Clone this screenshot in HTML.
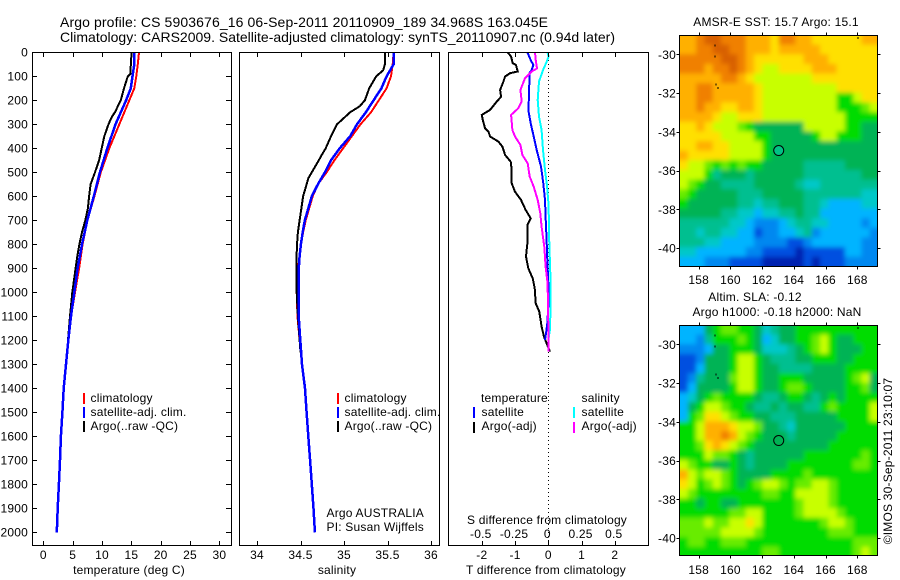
<!DOCTYPE html>
<html>
<head>
<meta charset="utf-8">
<title>Argo profile</title>
<style>
html,body{margin:0;padding:0;background:#fff;}
svg{display:block;}
text{font-family:"Liberation Sans",sans-serif;font-size:12px;fill:#000;letter-spacing:0.2px;}
.big{font-size:14px;letter-spacing:0;}
</style>
</head>
<body>
<svg id="chart" xmlns="http://www.w3.org/2000/svg" width="900" height="580" viewBox="0 0 900 580">
  <defs>
    <filter id="soften" filterUnits="userSpaceOnUse" x="650" y="10" width="250" height="570">
      <feGaussianBlur stdDeviation="2.4"/>
    </filter>
    <clipPath id="clip-sst"><rect x="680" y="36" width="197" height="230"/></clipPath>
    <clipPath id="clip-sla"><rect x="680" y="326" width="197" height="229"/></clipPath>
  </defs>
  <rect width="900" height="580" fill="#fff"/>
  <text class="big" x="60" y="27" textLength="488" lengthAdjust="spacing">Argo profile: CS 5903676_16 06-Sep-2011 20110909_189 34.968S 163.045E</text>
  <text class="big" x="60" y="42" textLength="555" lengthAdjust="spacing">Climatology: CARS2009. Satellite-adjusted climatology: synTS_20110907.nc (0.94d later)</text>

  <g clip-path="url(#clip-sst)"><g id="heat-sst" filter="url(#soften)"></g></g>
  <g clip-path="url(#clip-sla)"><g id="heat-sla" filter="url(#soften)"></g></g>
  <g id="profiles"></g>
  <g id="axes"></g>

  <g>
    <rect x="83" y="393" width="2" height="11" fill="#f00"/>
    <rect x="83" y="407" width="2" height="11" fill="#00f"/>
    <rect x="83" y="421" width="2" height="11" fill="#000"/>
    <text x="90.500" y="402">climatology</text>
    <text x="90.500" y="416">satellite-adj. clim.</text>
    <text x="90.500" y="430">Argo(..raw -QC)</text>
  </g>
  <g>
    <rect x="337" y="393" width="2" height="11" fill="#f00"/>
    <rect x="337" y="407" width="2" height="11" fill="#00f"/>
    <rect x="337" y="421" width="2" height="11" fill="#000"/>
    <text x="344.500" y="402">climatology</text>
    <text x="344.500" y="416">satellite-adj. clim.</text>
    <text x="344.500" y="430">Argo(..raw -QC)</text>
    <text x="326.500" y="517">Argo AUSTRALIA</text>
    <text x="326.500" y="531">PI: Susan Wijffels</text>
  </g>
  <g>
    <text x="481" y="402">temperature</text>
    <text x="581.500" y="402">salinity</text>
    <rect x="473" y="407" width="2" height="11" fill="#00f"/>
    <rect x="473" y="422" width="2" height="11" fill="#000"/>
    <rect x="573" y="407" width="2" height="11" fill="#0ff"/>
    <rect x="573" y="422" width="2" height="11" fill="#f0f"/>
    <text x="481.500" y="416">satellite</text>
    <text x="481.500" y="430">Argo(-adj)</text>
    <text x="581.500" y="416">satellite</text>
    <text x="581.500" y="430">Argo(-adj)</text>
  </g>

  <text x="129" y="574" text-anchor="middle">temperature (deg C)</text>
  <text x="337" y="574" text-anchor="middle">salinity</text>
  <text x="546" y="574" text-anchor="middle" textLength="160" lengthAdjust="spacing">T difference from climatology</text>
  <text x="547" y="524" text-anchor="middle" textLength="160" lengthAdjust="spacing">S difference from climatology</text>

  <text x="776" y="26" text-anchor="middle">AMSR-E SST: 15.7 Argo: 15.1</text>
  <text x="755" y="301" text-anchor="middle">Altim. SLA: -0.12</text>
  <text x="777" y="316" text-anchor="middle">Argo h1000: -0.18 h2000: NaN</text>
  <text transform="translate(892,461) rotate(-90)" text-anchor="middle">©IMOS 30-Sep-2011 23:10:07</text>
</svg>
<script>
// ---- profile data ----
const tempDepth = [0,50,100,150,200,300,400,500,600,700,800,900,1000,1100,1200,1300,1400,1500,1600,1700,1800,1900,2000];
const tempClim = [16.3,16.1,15.85,15.5,14.65,12.95,11.25,9.8,8.7,7.5,6.7,6.1,5.4,4.72,4.26,3.87,3.47,3.25,3.0,2.85,2.65,2.45,2.3];
const tempSat = [15.5,15.5,15.2,14.9,14.1,12.3,10.9,9.65,8.6,7.5,6.6,5.85,5.28,4.72,4.26,3.87,3.47,3.25,3.0,2.85,2.65,2.45,2.3];
const argoTempDepth = [0,50,90,100,150,200,250,270,300,350,400,450,500,550,600,650,700,750,800,850,900,1000,1100,1200,1250];
const argoTemp = [15.05,14.9,14.85,14.4,13.75,13.2,12.2,11.65,11.1,10.4,9.95,9.5,8.8,8.05,7.8,7.6,7.15,6.6,6.15,5.8,5.5,4.94,4.55,4.2,4.05];

const salDepth = [0,50,100,150,200,250,300,350,400,450,500,550,600,650,700,750,800,850,900,1000,1100,1200,1300,1400,1500,1600,1700,1800,1900,2000];
const salClim = [35.57,35.56,35.54,35.49,35.40,35.31,35.19,35.09,34.99,34.89,34.80,34.70,34.64,34.60,34.56,34.53,34.506,34.487,34.475,34.456,34.465,34.49,34.517,34.552,34.57,34.59,34.61,34.63,34.65,34.665];
const salSat = [35.57,35.57,35.49,35.43,35.34,35.25,35.15,35.07,34.95,34.85,34.78,34.70,34.63,34.59,34.55,34.525,34.505,34.49,34.48,34.479,34.479,34.498,34.517,34.552,34.57,34.59,34.61,34.63,34.65,34.665];
const argoSalDepth = [0,50,75,100,150,200,225,250,270,300,350,400,430,450,500,525,550,600,650,700,750,800,850,1000,1100,1250];
const argoSal = [35.47,35.47,35.45,35.37,35.29,35.24,35.18,35.07,35.01,34.92,34.85,34.79,34.74,34.71,34.63,34.59,34.57,34.53,34.51,34.49,34.47,34.46,34.455,34.456,34.47,34.5];

const diffArgoTDepth = [0,18,46,53,80,87,101,122,157,185,205,240,261,282,317,330,351,372,393,428,456,490,546,581,615,657,692,720,782,851,900,942,983,1046,1081,1143,1185,1212,1247];
const diffArgoT = [-1.22,-1.12,-1.07,-0.97,-0.92,-1.15,-1.30,-1.35,-1.45,-1.42,-1.55,-1.75,-2.0,-1.97,-1.90,-1.80,-1.75,-1.50,-1.38,-1.30,-1.13,-1.10,-1.10,-1.0,-0.82,-0.68,-0.53,-0.63,-0.62,-0.67,-0.60,-0.47,-0.41,-0.38,-0.27,-0.20,-0.13,-0.05,0.05];
const diffSatTDepth = [0,32,53,74,87,129,185,240,296,351,407,476,546,615,685,782,865,962,1060,1129,1171,1199];
const diffSatT = [-0.63,-0.53,-0.45,-0.5,-0.57,-0.57,-0.58,-0.60,-0.53,-0.44,-0.35,-0.22,-0.15,-0.10,-0.08,-0.05,-0.03,0,0,-0.03,-0.07,-0.10];
const diffSatSDepth = [0,18,39,74,122,199,268,324,407,490,556,638,782,921,1060,1157,1199];
const diffSatS = [-0.007,0.002,-0.012,-0.04,-0.07,-0.08,-0.07,-0.05,-0.04,-0.025,-0.01,0.002,0.007,0.015,0.017,0.012,0];
const diffArgoSDepth = [0,32,67,80,108,157,205,233,261,324,351,386,428,463,518,560,615,671,727,810,893,962,1060,1199,1247];
const diffArgoS = [-0.10,-0.095,-0.085,-0.125,-0.175,-0.21,-0.20,-0.225,-0.28,-0.27,-0.25,-0.21,-0.195,-0.155,-0.14,-0.11,-0.08,-0.06,-0.05,-0.03,-0.02,-0.005,-0.002,0.002,0.002];

// ---- tick labels ----
const depthTicks = [0,100,200,300,400,500,600,700,800,900,1000,1100,1200,1300,1400,1500,1600,1700,1800,1900,2000];
const tempTicks = [0,5,10,15,20,25,30];
const salTicks = [34,34.5,35,35.5,36];
const diffTTicks = [-2,-1,0,1,2];
const diffSTicks = [-0.5,-0.25,0,0.25,0.5];
const lonTicks = [158,160,162,164,166,168];
const latTicks = [-30,-32,-34,-36,-38,-40];

// ---- map data (colour level per cell, north to south) ----
const sstRows = [
[11,11,12,13,13,12,12,12,11,11,11,10,12,12,11,11,10,10,10,10,10,10,11,11],
[11,11,12,12,13,13,12,12,11,11,11,10,11,11,11,11,11,10,10,10,10,10,10,10],
[12,12,12,12,12,13,13,12,11,10,10,10,10,10,10,11,11,11,10,10,10,10,10,10],
[12,12,12,11,12,12,13,12,11,10,9,9,10,10,10,10,11,11,11,10,10,10,10,10],
[11,11,11,11,11,12,12,11,10,9,9,9,9,9,9,9,10,10,10,10,10,10,10,10],
[11,11,12,12,11,11,11,11,11,10,9,9,9,9,9,9,9,9,9,10,10,10,10,10],
[11,11,12,12,11,11,11,11,11,10,9,9,9,9,9,9,9,9,9,7,7,9,10,10],
[11,11,12,11,11,10,10,11,11,10,9,9,9,9,9,9,9,9,9,7,7,7,8,9],
[11,11,11,11,10,9,9,10,10,10,9,9,9,9,9,9,9,9,9,9,7,7,7,7],
[10,10,11,10,9,9,9,8,7,6,6,6,6,6,6,9,9,9,9,9,7,7,6,6],
[10,10,10,10,10,9,9,9,9,7,7,6,6,6,6,6,7,9,9,7,7,7,6,6],
[10,10,11,11,10,10,9,9,9,9,7,6,6,6,6,6,6,6,6,6,6,6,6,6],
[11,10,10,10,10,10,9,9,9,9,7,6,6,6,6,6,6,6,6,6,6,6,6,6],
[10,9,9,8,7,8,7,8,7,7,6,6,6,6,6,5,5,5,5,5,6,6,6,6],
[9,9,9,7,5,6,6,6,5,6,6,6,6,6,6,5,5,5,5,5,5,5,6,6],
[9,8,7,6,6,5,5,5,5,6,6,6,6,6,5,4,4,5,5,5,5,5,5,5],
[8,7,6,6,6,6,6,5,5,5,6,6,6,6,6,5,5,5,5,5,5,5,4,4],
[7,6,6,6,6,6,6,5,5,4,5,5,6,6,6,5,5,4,3,3,3,3,4,4],
[6,6,6,6,6,5,5,4,4,3,4,4,5,5,6,5,5,3,3,3,3,3,3,3],
[5,5,5,5,5,5,4,4,3,2,2,2,3,4,5,5,4,4,3,3,3,3,2,3],
[5,5,4,5,5,4,4,3,3,1,2,2,3,3,4,5,2,3,3,3,3,3,3,2],
[5,5,5,4,4,3,3,3,3,2,2,2,2,1,1,2,3,3,3,3,3,3,2,2],
[4,4,3,3,3,3,3,3,2,2,1,1,1,1,0,1,1,1,1,1,3,3,2,2],
[3,3,3,2,2,2,1,1,1,1,0,0,0,0,0,1,0,1,1,1,2,2,2,2]
];
const slaRows = [
[3,3,3,6,7,8,8,7,7,6,4,5,6,6,7,7,7,7,7,7,7,7,7,7],
[3,3,2,5,7,7,7,8,7,6,3,4,6,6,7,7,8,9,7,6,6,7,7,7],
[2,2,2,3,6,6,7,7,7,6,4,4,4,5,6,7,8,9,7,6,6,6,7,7],
[1,1,2,6,6,6,7,9,9,7,6,5,5,5,6,6,7,7,7,6,6,7,7,7],
[1,1,3,6,6,6,7,9,9,7,6,6,5,5,5,5,6,6,6,6,7,7,7,7],
[1,2,5,6,6,6,8,9,9,7,6,6,7,7,7,6,6,6,6,6,7,8,9,6],
[1,3,6,6,6,6,7,9,9,7,6,6,7,8,8,7,6,6,6,6,7,7,8,6],
[3,4,6,7,8,7,7,7,7,6,5,5,6,7,7,6,5,6,7,6,7,7,7,7],
[3,6,7,9,9,8,7,7,6,5,5,6,5,6,6,5,5,7,8,7,7,7,7,9],
[3,7,8,10,10,9,8,7,7,6,6,5,5,5,6,6,6,6,6,7,7,7,7,9],
[7,7,9,11,11,11,10,9,9,8,6,6,5,4,6,6,6,6,6,6,7,7,7,7],
[7,7,9,11,11,12,11,9,8,7,6,6,6,5,6,6,6,6,6,7,7,7,7,7],
[7,7,8,10,11,10,9,8,7,6,6,6,6,6,6,6,6,6,7,7,7,7,7,7],
[7,7,7,9,8,8,7,6,5,6,6,6,6,6,6,7,7,7,7,7,7,7,8,7],
[9,8,7,7,6,6,7,6,5,6,6,6,6,7,7,7,7,7,7,7,7,8,8,7],
[11,9,8,9,9,8,7,6,6,6,6,7,7,7,7,8,7,7,7,7,7,7,7,7],
[10,9,7,8,9,8,7,6,7,8,9,9,8,7,8,8,9,9,8,7,7,7,7,7],
[9,8,7,7,7,7,7,7,7,7,8,8,7,7,9,9,9,9,8,7,7,7,7,7],
[7,7,6,7,7,6,6,7,7,7,7,7,7,7,8,9,9,9,8,7,7,7,7,7],
[7,7,7,7,7,7,8,8,9,9,7,7,7,7,8,9,9,9,9,8,7,7,7,7],
[8,8,8,9,8,8,9,9,10,9,7,7,7,7,7,7,7,8,9,9,8,7,7,7],
[8,8,8,8,8,9,9,9,9,8,7,7,7,7,7,7,7,7,8,8,8,7,7,7],
[7,8,8,7,7,8,8,8,7,7,7,7,7,7,7,7,7,7,7,7,7,8,8,8],
[7,7,7,7,7,7,7,7,7,7,8,8,7,7,7,7,7,7,7,7,7,8,9,8]
];
const palette = ["#0020b0","#0050e0","#0088f0","#00b4ff","#00c8c8","#00bf90","#00b354","#00dc00","#68ec00","#c8ff00","#ffe000","#ffb000","#f08000","#d86000"];

const SVGNS = "http://www.w3.org/2000/svg";
const heatSst = document.getElementById("heat-sst");
const heatSla = document.getElementById("heat-sla");
const profG = document.getElementById("profiles");
const axG = document.getElementById("axes");

// ---- axis functions ----
const yDepth = d => 52.3 + d * 0.24;
const xTemp = t => 43.3 + t * 5.87;
const xSal = s => 257 + (s - 34) * 87;
const xDT = t => 548.3 + t * 33.25;
const xDS = s => 548.3 + s * 133;
const xLon = lon => 698.7 + (lon - 158) * 15.86;
const yLatTop = lat => 54.3 + (-30 - lat) * 19.37;
const yLatBot = lat => 344.3 + (-30 - lat) * 19.37;

function make(tag, parent, attrs) {
  const el = document.createElementNS(SVGNS, tag);
  for (const k in attrs) el.setAttribute(k, attrs[k]);
  parent.appendChild(el);
  return el;
}
function drawLine(name, xs, depths, xf, color, w) {
  const pts = xs.map((v, i) => xf(v).toFixed(1) + "," + yDepth(depths[i]).toFixed(1)).join(" ");
  const el = make("polyline", profG, {points: pts, fill: "none", stroke: color, "stroke-width": w, "shape-rendering": "crispEdges"});
  
  
}
function tick(parent, x1, y1, x2, y2) {
  const el = make("line", parent, {x1: x1, y1: y1, x2: x2, y2: y2, stroke: "#000", "stroke-width": 1, "shape-rendering": "crispEdges"});
  
  
}
function label(parent, x, y, str, anchor) {
  const el = make("text", parent, {x: x, y: y, "text-anchor": anchor});
  el.textContent = str;
  
  
}
function frame(name, x1, y1, x2, y2) {
  const el = make("rect", axG, {x: x1, y: y1, width: x2 - x1, height: y2 - y1, fill: "none", stroke: "#000", "stroke-width": 1, "shape-rendering": "crispEdges"});
  
  
}

// ---- maps: one rect per cell; border cells bleed past the clip so the soft filter keeps full colour at the edges ----
function drawMap(name, rows, yLat, group) {
  const lonW = 156.8, lonE = 169.3, latN = -29.0, latS = -40.95;
  const bleed = 10;
  const nr = rows.length, nc = rows[0].length;
  const dLon = (lonE - lonW) / nc, dLat = (latN - latS) / nr;
  rows.forEach((row, j) => {
    row.forEach((lev, i) => {
      let x0 = xLon(lonW + i * dLon), x1 = xLon(lonW + (i + 1) * dLon);
      let y0 = yLat(latN - j * dLat), y1 = yLat(latN - (j + 1) * dLat);
      if (i === 0) x0 -= bleed;
      if (i === nc - 1) x1 += bleed;
      if (j === 0) y0 -= bleed;
      if (j === nr - 1) y1 += bleed;
      const el = make("rect", group, {x: x0.toFixed(2), y: y0.toFixed(2), width: (x1 - x0 + 0.4).toFixed(2), height: (y1 - y0 + 0.4).toFixed(2), fill: palette[lev]});
      
      
    });
  });
}
drawMap("sst-map", sstRows, yLatTop, heatSst);
drawMap("sla-map", slaRows, yLatBot, heatSla);

// ---- profile lines ----
drawLine("temperature-climatology-line", tempClim, tempDepth, xTemp, "#f00", 2);
drawLine("temperature-argo-line", argoTemp, argoTempDepth, xTemp, "#000", 2);
drawLine("temperature-satellite-line", tempSat, tempDepth, xTemp, "#00f", 2.5);
drawLine("salinity-climatology-line", salClim, salDepth, xSal, "#f00", 2);
drawLine("salinity-argo-line", argoSal, argoSalDepth, xSal, "#000", 2);
drawLine("salinity-satellite-line", salSat, salDepth, xSal, "#00f", 2.5);

const zero = make("line", profG, {x1: xDT(0), y1: 52, x2: xDT(0), y2: 545, stroke: "#000", "stroke-width": 1, "stroke-dasharray": "1 3", "shape-rendering": "crispEdges"});



drawLine("diff-t-argo-line", diffArgoT, diffArgoTDepth, xDT, "#000", 2);
drawLine("diff-t-satellite-line", diffSatT, diffSatTDepth, xDT, "#00f", 2);
drawLine("diff-s-satellite-line", diffSatS, diffSatSDepth, xDS, "#0ff", 2);
drawLine("diff-s-argo-line", diffArgoS, diffArgoSDepth, xDS, "#f0f", 2);

// ---- panel frames ----
frame("temperature-panel-frame", 32.5, 52.5, 231.5, 545.5);
frame("salinity-panel-frame", 239.5, 52.5, 439.5, 545.5);
frame("difference-panel-frame", 448.5, 52.5, 648.5, 545.5);
frame("sst-map-frame", 679.5, 35.5, 877.5, 266.5);
frame("sla-map-frame", 679.5, 325.5, 877.5, 555.5);

// ---- profile axes ----
depthTicks.forEach(d => {
  const y = Math.round(yDepth(d)) + 0.5;
  if (d > 0) {
    tick(axG, 32.5, y, 37, y);
    tick(axG, 226, y, 231.5, y);
  }
  label(axG, 28, yDepth(d) + 4, String(d), "end");
});
tempTicks.forEach(t => {
  const x = Math.round(xTemp(t)) + 0.5;
  tick(axG, x, 52.5, x, 57);
  tick(axG, x, 541, x, 545.5);
  label(axG, xTemp(t), 559, String(t), "middle");
});
salTicks.forEach(s => {
  const x = Math.round(xSal(s)) + 0.5;
  tick(axG, x, 52.5, x, 57);
  tick(axG, x, 541, x, 545.5);
  label(axG, xSal(s), 559, String(s), "middle");
});
diffTTicks.forEach(t => {
  const x = Math.round(xDT(t)) + 0.5;
  tick(axG, x, 52.5, x, 57);
  tick(axG, x, 541, x, 545.5);
  label(axG, xDT(t), 559, String(t), "middle");
});
diffSTicks.forEach(s => {
  label(axG, xDS(s) - 1, 538, String(s), "middle");
});

// ---- map axes ----
function mapAxes(yLat, top, bottom, labelY) {
  lonTicks.forEach(lon => {
    const x = Math.round(xLon(lon)) + 0.5;
    tick(axG, x, top - 3, x, top);
    tick(axG, x, bottom, x, bottom + 3);
    label(axG, xLon(lon), labelY, String(lon), "middle");
  });
  latTicks.forEach(lat => {
    const y = Math.round(yLat(lat)) + 0.5;
    tick(axG, 676.5, y, 679.5, y);
    tick(axG, 877.5, y, 880.5, y);
    label(axG, 676, yLat(lat) + 4.5, String(lat), "end");
  });
}
mapAxes(yLatTop, 35.5, 266.5, 284);
mapAxes(yLatBot, 325.5, 555.5, 574);

// ---- float position markers ----
const floatLon = 163.045;
const floatLat = -34.968;
const m1 = make("circle", axG, {cx: xLon(floatLon), cy: yLatTop(floatLat), r: 5, fill: "#00c385", stroke: "#000", "stroke-width": 1});


const m2 = make("circle", axG, {cx: xLon(floatLon), cy: yLatBot(floatLat), r: 5, fill: "#00b354", stroke: "#000", "stroke-width": 1});



// ---- islands ----
const islandLon = [159.0, 159.0, 159.05, 159.2, 168.0];
const islandLat = [-29.5, -30.05, -31.5, -31.7, -29.1];
[yLatTop, yLatBot].forEach(yf => {
  islandLon.forEach((lon, i) => {
    const el = make("rect", axG, {x: xLon(lon).toFixed(1), y: yf(islandLat[i]).toFixed(1), width: 1, height: 2, fill: "#000", "shape-rendering": "crispEdges"});
    
    
  });
});
</script>
</body>
</html>
